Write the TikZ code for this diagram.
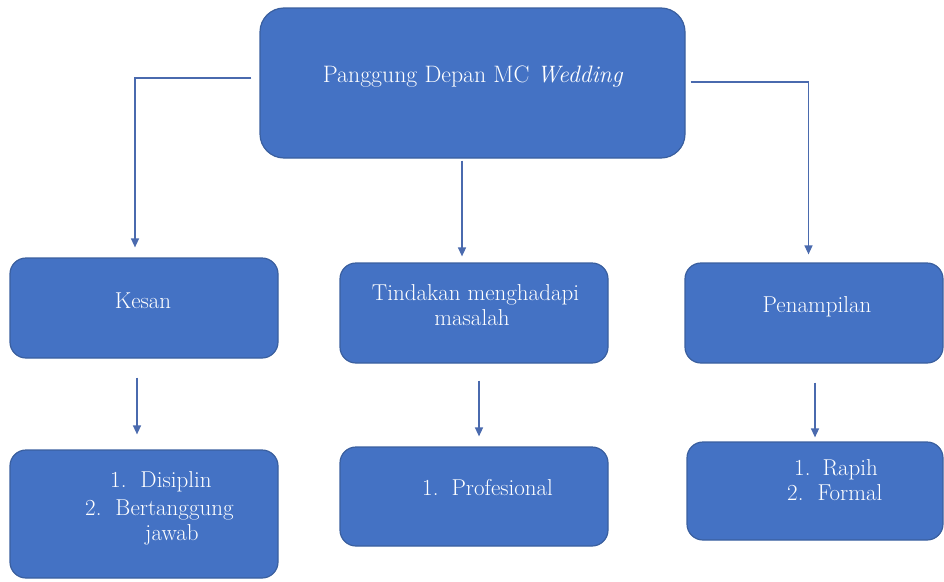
\documentclass[tikz,border=0pt]{standalone}
\usetikzlibrary{arrows.meta}
\definecolor{boxfill}{HTML}{4472C4}
\definecolor{boxline}{HTML}{3A5F9F}
\definecolor{arrcol}{HTML}{4A6AAE}
\tikzset{
  box/.style={draw=boxline, line width=1.2pt, fill=boxfill, rounded corners=#1, inner sep=0pt},
  box/.default=16pt,
  txt/.style={text=white, font=\fontsize{23}{27}\selectfont, inner sep=0pt},
  arr/.style={draw=arrcol, line width=1.4pt, -{Triangle[width=8pt,length=9pt]}}
}
\begin{document}
\begin{tikzpicture}[x=1pt,y=-1pt]
\useasboundingbox (0,0) rectangle (944,581);
% boxes
\node[box=24pt, minimum width=425pt, minimum height=150pt] (top) at (472.5,83) {};
\node[box, minimum width=268pt, minimum height=100pt] (kesan) at (144,308) {};
\node[box, minimum width=268pt, minimum height=100pt] (tind) at (474,313) {};
\node[box, minimum width=258pt, minimum height=100pt] (penam) at (814,313) {};
\node[box, minimum width=268pt, minimum height=128pt] (b1) at (144,514) {};
\node[box, minimum width=268pt, minimum height=99pt] (b2) at (474,496.5) {};
\node[box, minimum width=256pt, minimum height=98pt] (b3) at (815,491) {};
% texts
\node[txt, anchor=base, font=\fontsize{23.8}{28}\selectfont] (ttop) at (473,82) {Panggung Depan MC \textit{Wedding}};
\node[txt, anchor=base] (tkesan) at (143,308) {Kesan};
\node[txt, anchor=base] (ttind1) at (475.5,300) {Tindakan menghadapi};
\node[txt, anchor=base] (ttind2) at (472,325) {masalah};
\node[txt, anchor=base] (tpenam) at (817,312) {Penampilan};
\node[txt, anchor=base west] (tb1a) at (110,487) {1.\hspace{14pt}Disiplin};
\node[txt, anchor=base west] (tb1b) at (85,515) {2.\hspace{14pt}Bertanggung};
\node[txt, anchor=base west] (tb1c) at (145,540) {jawab};
\node[txt, anchor=base west] (tb2a) at (422,495) {1.\hspace{13pt}Profesional};
\node[txt, anchor=base west] (tb3a) at (794,475) {1.\hspace{12pt}Rapih};
\node[txt, anchor=base west] (tb3b) at (787,500) {2.\hspace{14pt}Formal};
% connectors
\draw[arr, shorten <=8pt, shorten >=10pt] ([yshift=5pt]top.west) -| ([xshift=-9pt]kesan.north);
\draw[arr, shorten <=2pt, shorten >=6pt] ([xshift=-10.5pt]top.south) -- ([xshift=-10.5pt]top.south |- tind.north);
\draw[arr, shorten <=5pt, shorten >=8pt] ([yshift=1pt]top.east) -| ([xshift=-5.5pt]penam.north);
\draw[arr, shorten <=19pt, shorten >=15pt] ([xshift=-7pt]kesan.south) -- ([xshift=-7pt]kesan.south |- b1.north);
\draw[arr, shorten <=17pt, shorten >=10pt] ([xshift=5pt]tind.south) -- ([xshift=5pt]tind.south |- b2.north);
\draw[arr, shorten <=19pt, shorten >=4pt] ([xshift=1pt]penam.south) -- ([xshift=1pt]penam.south |- b3.north);
\end{tikzpicture}
\end{document}
